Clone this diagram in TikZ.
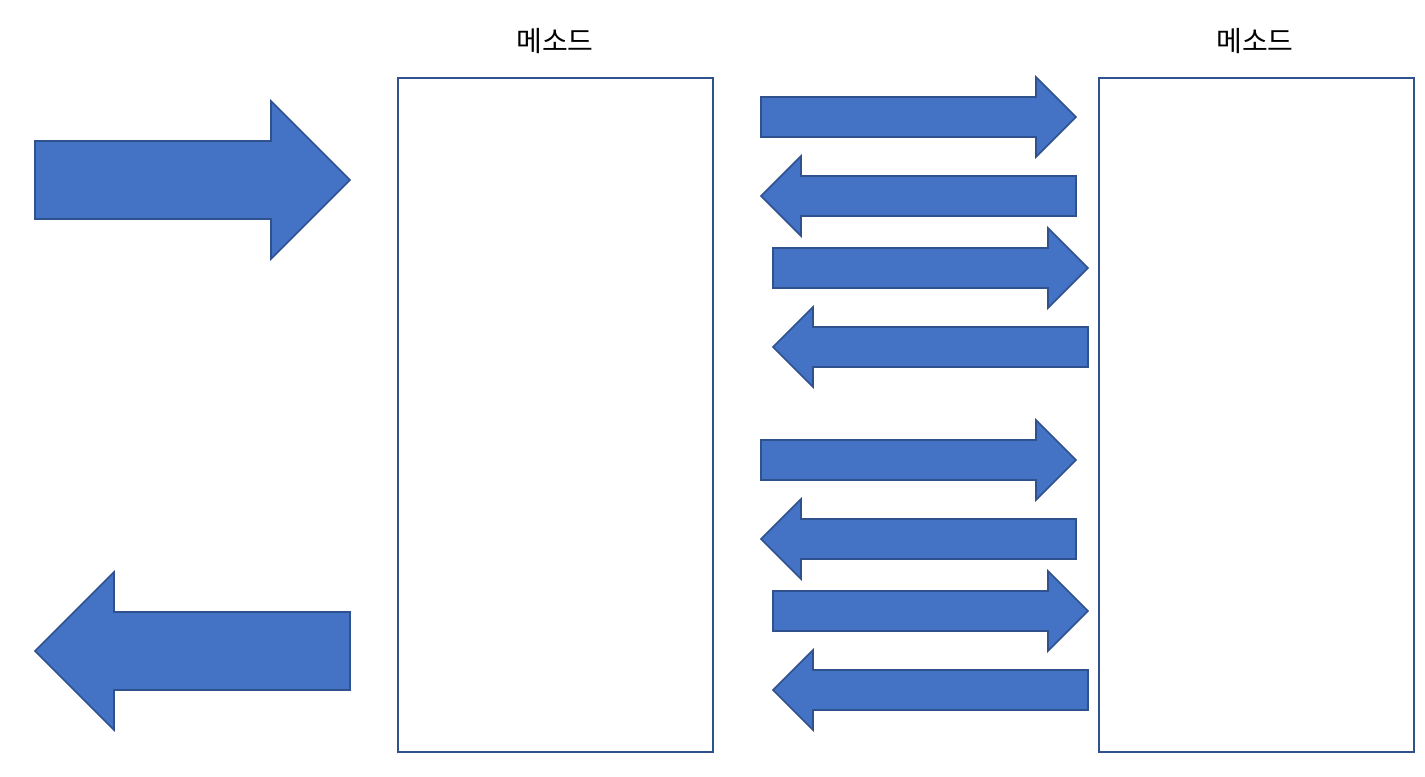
\documentclass[tikz,border=0pt]{standalone}
\usepackage{fontspec}
\newfontfamily\krfont{Noto Sans CJK KR}
\definecolor{arrowfill}{HTML}{4472C4}
\definecolor{arrowline}{HTML}{2F528F}
\tikzset{
  blockarrow/.style={fill=arrowfill, draw=arrowline, line width=1.2pt, line join=miter},
  methodbox/.style={draw=arrowline, line width=1.5pt, fill=white, inner sep=0pt, outer sep=0pt},
  methodlabel/.style={font=\krfont\fontsize{21}{24}\selectfont, inner sep=0pt}
}
% right arrow: x1, x2, yc, shaft half-height, head half-height, head length
\newcommand\RArrowShape[6]{%
  \path[blockarrow] (#1,#3-#4) -- (#2-#6,#3-#4) -- (#2-#6,#3-#5) -- (#2,#3)
    -- (#2-#6,#3+#5) -- (#2-#6,#3+#4) -- (#1,#3+#4) -- cycle;}
\newcommand\LArrowShape[6]{%
  \path[blockarrow] (#2,#3-#4) -- (#1+#6,#3-#4) -- (#1+#6,#3-#5) -- (#1,#3)
    -- (#1+#6,#3+#5) -- (#1+#6,#3+#4) -- (#2,#3+#4) -- cycle;}
\begin{document}
\begin{tikzpicture}[x=0.75pt,y=-0.75pt]
\useasboundingbox (0,0) rectangle (1425,776);
% method boxes
\node[methodbox, minimum width=315*0.75pt, minimum height=674*0.75pt] (boxL) at (555.5,415) {};
\node[methodbox, minimum width=315*0.75pt, minimum height=674*0.75pt] (boxR) at (1256.5,415) {};
\node[methodlabel] (labelL) at (555,41) {메소드};
\node[methodlabel] (labelR) at (1255,41) {메소드};
% big arrows
\RArrowShape{35}{350}{180}{39}{79}{79}
\LArrowShape{35}{350}{651}{39}{79}{79}
% small arrows, upper group
\RArrowShape{761}{1076}{117}{20}{40}{40}
\LArrowShape{761}{1076}{196}{20}{40}{40}
\RArrowShape{773}{1088}{268}{20}{40}{40}
\LArrowShape{773}{1088}{347}{20}{40}{40}
% small arrows, lower group
\RArrowShape{761}{1076}{460}{20}{40}{40}
\LArrowShape{761}{1076}{539}{20}{40}{40}
\RArrowShape{773}{1088}{611}{20}{40}{40}
\LArrowShape{773}{1088}{690}{20}{40}{40}
\end{tikzpicture}
\end{document}
